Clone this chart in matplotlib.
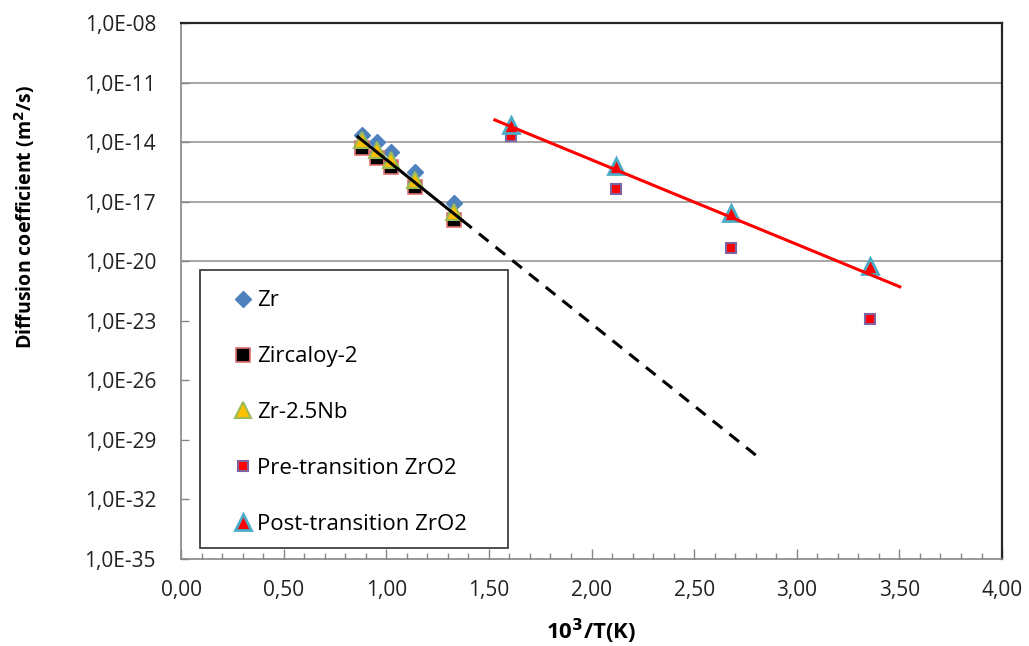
"""
Arrhenius plot of diffusion coefficients in Zr alloys and zirconium oxide.
"""
import matplotlib
matplotlib.use('Agg')
import matplotlib.patches as mpatches
import numpy as np
from matplotlib import pyplot as plt
from matplotlib.ticker import FixedLocator, FuncFormatter, MultipleLocator

# 1000/T for the metal samples (shared by the three alloys)
alloy_inv_t = [0.88, 0.955, 1.025, 1.14, 1.33]
# log10 of D (m2/s)
zr_log_d = [-13.64, -14.00, -14.50, -15.51, -17.07]
zircaloy_log_d = [-14.30, -14.80, -15.25, -16.26, -17.92]
zrnb_log_d = [-13.89, -14.40, -14.90, -15.91, -17.52]

# 1000/T for the oxide samples
oxide_inv_t = [1.606, 2.117, 2.679, 3.359]
pre_log_d = [-13.69, -16.38, -19.33, -22.90]
post_log_d = [-13.14, -15.20, -17.56, -20.24]

# Arrhenius fits: log10(D) = a + b * 1000/T
metal_fit = (-6.61, -8.27)
metal_fit_solid = (0.862, 1.37)
metal_fit_dashed = (1.37, 2.83)
oxide_fit = (-6.37, -4.26)
oxide_fit_range = (1.529, 3.502)

y_exponents = [-8, -11, -14, -17, -20, -23, -26, -29, -32, -35]
grid_exponents = [-11, -14, -17, -20]

TICK_SIZE = 15
LEGEND_SIZE = 16


def fit_line(fit, x_range):
    x = np.array(x_range)
    return x, np.power(10.0, fit[0] + fit[1] * x)


def main():
    plt.rcParams['font.family'] = ['Open Sans', 'DejaVu Sans']
    plt.rcParams['font.size'] = TICK_SIZE

    fig = plt.figure(figsize=(10.29, 6.46), dpi=100)
    ax = fig.add_axes([0.1759, 0.1347, 0.7979, 0.8297])
    ax.set_yscale('log')

    for e in grid_exponents:
        ax.axhline(10.0 ** e, color='#A6A6A6', lw=1.4, zorder=1)

    ax.plot(alloy_inv_t, np.power(10.0, zr_log_d), ls='none', marker='D', ms=8.5,
            mfc='#4F81BD', mec='#4F81BD', zorder=3, label='Zr')
    ax.plot(alloy_inv_t, np.power(10.0, zircaloy_log_d), ls='none', marker='s', ms=9.5,
            mfc='black', mec='#E07070', mew=1.2, zorder=4, label='Zircaloy-2')
    ax.plot(alloy_inv_t, np.power(10.0, zrnb_log_d), ls='none', marker='^', ms=11.5,
            mfc='#FFC000', mec='#9BBB59', mew=1.5, zorder=5, label='Zr-2.5Nb')
    ax.plot(oxide_inv_t, np.power(10.0, pre_log_d), ls='none', marker='s', ms=7,
            mfc='#FF0000', mec='#8064A2', mew=1.5, zorder=3, label='Pre-transition ZrO2')
    ax.plot(oxide_inv_t, np.power(10.0, post_log_d), ls='none', marker='^', ms=11.5,
            mfc='#FF0000', mec='#4BACC6', mew=2, zorder=4, label='Post-transition ZrO2')

    x, y = fit_line(metal_fit, metal_fit_solid)
    ax.plot(x, y, color='black', lw=2.2, zorder=6)
    x, y = fit_line(metal_fit, metal_fit_dashed)
    ax.plot(x, y, color='black', lw=2.2, ls=(0, (4, 3)), zorder=6)
    x, y = fit_line(oxide_fit, oxide_fit_range)
    ax.plot(x, y, color='#FF0000', lw=2.2, zorder=6)

    ax.set_xlim(0, 4)
    ax.set_ylim(1e-35, 1e-8)
    ax.xaxis.set_major_locator(MultipleLocator(0.5))
    ax.xaxis.set_minor_locator(MultipleLocator(0.1))
    ax.xaxis.set_major_formatter(FuncFormatter(lambda v, p: ('%.2f' % v).replace('.', ',')))
    ax.yaxis.set_major_locator(FixedLocator([10.0 ** e for e in y_exponents]))
    ax.yaxis.set_minor_locator(FixedLocator([]))
    ax.yaxis.set_major_formatter(FuncFormatter(
        lambda v, p: '1,0E-%02d' % int(round(-np.log10(v)))))

    ax.tick_params(axis='x', which='major', direction='in', length=7, width=1,
                   color='#868686', pad=15, labelsize=TICK_SIZE, labelcolor='#222222')
    ax.tick_params(axis='x', which='minor', direction='in', length=4, width=1,
                   color='#868686')
    ax.tick_params(axis='y', which='major', direction='in', length=6, width=1,
                   color='#868686', pad=18, labelsize=TICK_SIZE, labelcolor='#222222')

    for side in ('left', 'bottom'):
        ax.spines[side].set_color('#868686')
        ax.spines[side].set_linewidth(1.2)
    for side in ('top', 'right'):
        ax.spines[side].set_color('#262626')
        ax.spines[side].set_linewidth(1.6)

    ax.set_xlabel('10$^\\mathbf{3}$/T(K)', fontweight='bold', fontsize=16)
    ax.xaxis.set_label_coords(0.5, -0.108)
    ax.set_ylabel('Diffusion coefficient (m$^\\mathbf{2}$/s)', fontweight='bold', fontsize=14)
    ax.yaxis.set_label_coords(-0.175, 0.638)

    # legend frame drawn by hand, entries placed inside it
    frame = mpatches.Rectangle((0.0231, 0.0205), 0.375, 0.519, transform=ax.transAxes,
                               facecolor='white', edgecolor='#404040', lw=1.3, zorder=7)
    ax.add_patch(frame)
    leg = ax.legend(loc='upper left', bbox_to_anchor=(0.0633, 0.501), frameon=False,
                    borderpad=0, borderaxespad=0, handlelength=0.9, handletextpad=0.18,
                    labelspacing=1.57, numpoints=1, fontsize=LEGEND_SIZE)
    leg.set_zorder(8)

    fig.savefig('out.png', dpi=100)


if __name__ == '__main__':
    main()
